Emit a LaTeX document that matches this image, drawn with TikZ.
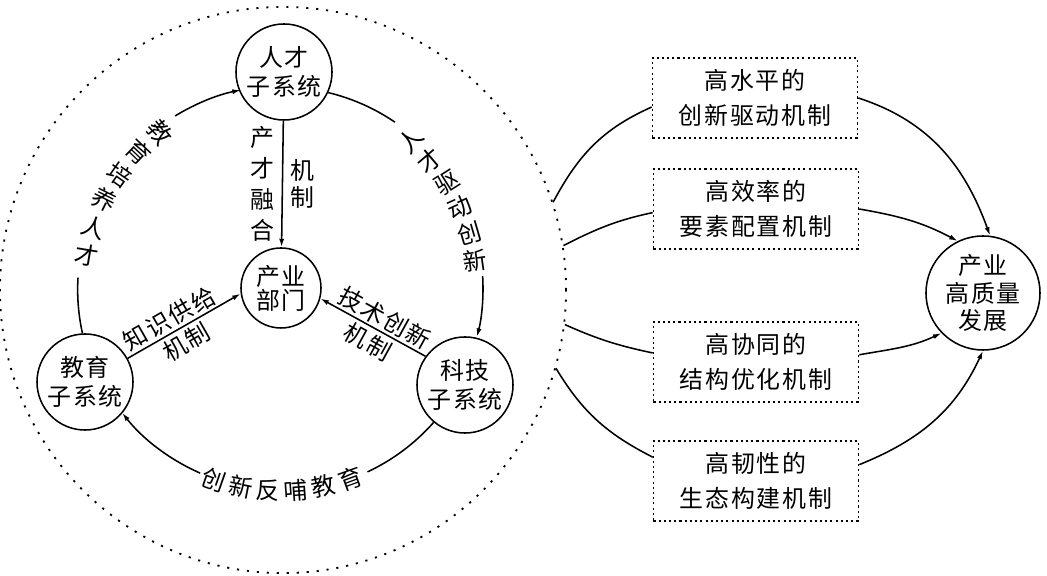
\documentclass[tikz,border=0pt]{standalone}
\usepackage{fontspec}
\setmainfont{Noto Sans CJK SC}[LetterSpace=8]
\usetikzlibrary{arrows.meta,calc}

\begin{document}
\begin{tikzpicture}[
        x=0.025cm, y=0.025cm,
        line width=1.1pt,
        every node/.style={align=center, font=\fontsize{17}{20.5}\selectfont},
        sub/.style={circle, draw, inner sep=0pt, minimum size=2.4cm},
        mech/.style={draw, dash pattern=on 1.5pt off 2.2pt, minimum width=5.125cm, minimum height=2cm, font=\fontsize{17}{25}\selectfont},
        arr/.style={-{Latex[length=6pt,width=3.6pt]}},
        lab/.style={inner sep=0pt},
        ch/.style={inner sep=0pt}
    ]
    \useasboundingbox (0,0) rectangle (1047,576);
    \node[circle, draw, line width=1.3pt, dash pattern=on 1.5pt off 5.6pt, inner sep=0pt, minimum size=14.15cm] (sys) at (283,286) {};
    \node[sub] (talent) at (284,504) {人才\\子系统};
    \node[sub] (edu) at (85,194) {教育\\子系统};
    \node[sub] (tech) at (465,191) {科技\\子系统};
    \node[sub, minimum size=2cm, font=\fontsize{17}{17}\selectfont] (ind) at (281,288) {产业\\部门};
    \node[sub, minimum size=2.85cm, font=\fontsize{17}{19.5}\selectfont] (hq) at (983,283) {产业\\高质量\\发展};

    \draw[arr] (talent) -- node[left=5pt, lab, font=\fontsize{17}{22}\selectfont] (cr) {产\\才\\融\\合} node[right=5pt, lab, font=\fontsize{17}{19}\selectfont] (crj) {机\\制} (ind);
    \draw[arr] (edu.29) -- node[sloped, above=1.5pt, lab, pos=0.43] (zs) {知识供给} node[sloped, below=2.5pt, lab, pos=0.45] (zsj) {机制} (ind.188);
    \draw[arr] (tech.144) -- node[sloped, above=1.5pt, lab, pos=0.45] (js) {技术创新} node[sloped, below=2.5pt, lab, pos=0.48] (jsj) {机制} (ind.345);

    \coordinate (gl) at ($(ind)+(121.6:202)$);
    \coordinate (gr) at ($(ind)+(3.4:202)$);
    \coordinate (gb) at ($(ind)+(-113.6:202)$);
    \draw (edu.93) arc[start angle=192.5, end angle=176.6, radius=5.05cm];
    \draw[arr] (gl) arc[start angle=121.6, end angle=101.5, radius=5.05cm];
    \draw (talent.335) arc[start angle=76.5, end angle=55.7, radius=5.05cm];
    \draw[arr] (gr) arc[start angle=3.4, end angle=-14, radius=5.05cm];
    \draw (tech.230) arc[start angle=-41.4, end angle=-65, radius=5.05cm];
    \draw[arr] (gb) arc[start angle=-113.6, end angle=-141.8, radius=5.05cm];

    \foreach \c [count=\i from 0] in {教,育,培,养,人,才} {
        \pgfmathsetmacro\a{127.8+8.56*\i}
        \node[ch, rotate=\a-180] (jy\i) at ($(ind)+(\a:197)$) {\c};
    }
    \foreach \c [count=\i from 0] in {人,才,驱,动,创,新} {
        \pgfmathsetmacro\a{48.7-8.14*\i}
        \node[ch, rotate=\a] (rc\i) at ($(ind)+(\a:196)$) {\c};
    }
    \foreach \c [count=\i from 0] in {创,新,反,哺,教,育} {
        \pgfmathsetmacro\a{-109.3+7.86*\i}
        \node[ch, rotate=\a+90] (cx\i) at ($(ind)+(\a:203)$) {\c};
    }

    \node[mech] (m1) at (755,478) {高水平的\\创新驱动机制};
    \node[mech] (m2) at (756,367) {高效率的\\要素配置机制};
    \node[mech] (m3) at (756,214) {高协同的\\结构优化机制};
    \node[mech] (m4) at (756,95) {高韧性的\\生态构建机制};

    \draw (sys.18) to[out=62, in=204] (m1.185);
    \draw (sys.9) to[out=27, in=192] (m2.182);
    \draw (sys.353) to[out=-24, in=168] (m3.175);
    \draw (sys.344) to[out=-59, in=153] (m4.167);
    \draw[arr] (m1.east) to[out=-18, in=110] (hq.83);
    \draw[arr] (m2.east) to[out=-10, in=152] (hq.116);
    \draw[arr] (m3.4) to[out=10, in=205] (hq.224);
    \draw[arr] (m4.9) to[out=22, in=245] (hq.270);
\end{tikzpicture}
\end{document}
